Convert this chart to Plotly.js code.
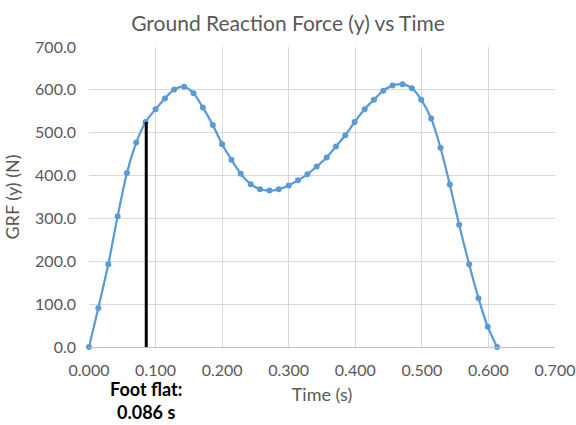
<!DOCTYPE html>
<html>
<head>
<meta charset="utf-8">
<script src="https://cdn.plot.ly/plotly-3.0.1.min.js"></script>
<style>
html,body{margin:0;padding:0;background:#fff;}
#chart{width:576px;height:425px;}
</style>
</head>
<body>
<div id="chart"></div>
<script>
// Time (s) and vertical ground reaction force (N)
var timeS = [0.000, 0.014, 0.029, 0.043, 0.057, 0.071, 0.085, 0.100, 0.114, 0.128,
             0.143, 0.157, 0.171, 0.186, 0.200, 0.214, 0.228, 0.243, 0.257, 0.271,
             0.285, 0.300, 0.314, 0.328, 0.342, 0.357, 0.371, 0.385, 0.399, 0.414,
             0.428, 0.442, 0.456, 0.471, 0.485, 0.499, 0.514, 0.528, 0.542, 0.556,
             0.571, 0.585, 0.599, 0.613];
var grfN = [0, 91, 193, 305, 406, 477, 525, 555, 580, 601,
            607, 592, 559, 518, 473, 437, 404, 380, 368, 365,
            368, 377, 389, 403, 421, 442, 468, 494, 525, 555,
            577, 598, 610, 613, 604, 577, 533, 465, 379, 285,
            193, 114, 47, 0];
var footFlatT = 0.086;
var footFlatF = [-4, 525];
var footFlatLabel = "Foot flat:<br>0.086 s";
var xTicks = [0, 0.1, 0.2, 0.3, 0.4, 0.5, 0.6, 0.7];
var xTickText = ["0.000", "0.100", "0.200", "0.300", "0.400", "0.500", "0.600", "0.700"];
var yTicks = [0, 100, 200, 300, 400, 500, 600, 700];
var yTickText = ["0.0", "100.0", "200.0", "300.0", "400.0", "500.0", "600.0", "700.0"];

var FONT = "Lato, 'Open Sans', sans-serif";
var GRAY = "#595959";

var traces = [
  {
    x: timeS, y: grfN, type: "scatter", mode: "lines+markers",
    line: {color: "#5b9bd5", width: 2.25, shape: "spline", smoothing: 0.8},
    marker: {color: "#5b9bd5", size: 6},
    showlegend: false, hoverinfo: "x+y", cliponaxis: false
  },
  {
    x: [footFlatT, footFlatT], y: footFlatF, type: "scatter", mode: "lines",
    line: {color: "#000000", width: 3},
    showlegend: false, hoverinfo: "skip", cliponaxis: false
  }
];

var layout = {
  width: 576, height: 425,
  margin: {l: 89, r: 21, t: 47, b: 78},
  paper_bgcolor: "#ffffff", plot_bgcolor: "#ffffff",
  font: {family: FONT, color: GRAY, size: 16},
  title: {text: "Ground Reaction Force (y) vs Time", x: 0.5, xref: "container", xanchor: "center",
          y: 17, yref: "container", yanchor: "middle",
          font: {family: FONT, size: 21, color: GRAY}},
  xaxis: {
    range: [0, 0.7], tickvals: xTicks, ticktext: xTickText,
    showgrid: true, gridcolor: "#d9d9d9", gridwidth: 1,
    zeroline: false, showline: true, linecolor: "#bfbfbf", linewidth: 1,
    ticks: "", ticklabelstandoff: 9, tickfont: {family: FONT, size: 16, color: GRAY},
    title: {text: "Time (s)", font: {family: FONT, size: 18, color: GRAY}, standoff: 10},
    automargin: false
  },
  yaxis: {
    range: [0, 700], tickvals: yTicks, ticktext: yTickText,
    showgrid: true, gridcolor: "#d9d9d9", gridwidth: 1,
    zeroline: false, showline: false,
    ticks: "", ticklabelstandoff: 12, tickfont: {family: FONT, size: 16, color: GRAY},
    title: {text: "GRF (y) (N)", font: {family: FONT, size: 18, color: GRAY}, standoff: 10},
    automargin: false
  },
  annotations: [
    {x: footFlatT, y: 0, xref: "x", yref: "y", text: footFlatLabel, showarrow: false,
     xanchor: "center", yanchor: "top", yshift: -29, align: "center",
     font: {family: FONT, size: 18, color: "#000000", weight: "bold"}}
  ]
};

Plotly.newPlot("chart", traces, layout, {displayModeBar: false, staticPlot: true});
</script>
</body>
</html>
